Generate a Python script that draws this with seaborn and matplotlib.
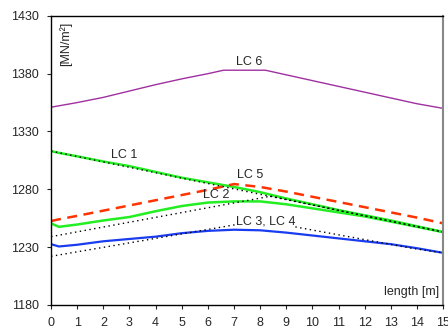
import matplotlib
matplotlib.use("Agg")
import matplotlib.pyplot as plt
import seaborn as sns
import pandas as pd

# values (stress in MN/m² along the length)
x = [0, 0.3, 1, 2, 3, 4, 5, 6, 7, 8, 9, 10, 11, 12, 13, 14, 15]
lc1 = [1313, 1311.5, 1308.5, 1304, 1300, 1295, 1290, 1286, 1282, 1277.5, 1272, 1267, 1262, 1257.5, 1253, 1248, 1243]
lc2 = [1250.5, 1247.5, 1249.5, 1253, 1256, 1261, 1265.5, 1268.5, 1269.5, 1269.5, 1267, 1263.5, 1260, 1256.5, 1252, 1247.5, 1243]
lc3 = [1232.5, 1230.5, 1232, 1235, 1237, 1239, 1242, 1244, 1245, 1244.5, 1242.5, 1240, 1237.5, 1235, 1232.5, 1229, 1225]
lc5 = [1252.5, 1254, 1257, 1261.5, 1266, 1270.5, 1275, 1279.5, 1284.5, 1282, 1278, 1273.5, 1269, 1264.5, 1260, 1255.5, 1250.5]

# LC 6 has a flat top between ~6.6 m and ~8.2 m
lc6_x = [0, 1, 2, 3, 4, 5, 6, 6.6, 8.2, 9, 10, 11, 12, 13, 14, 15]
lc6 = [1351, 1355, 1359.5, 1365, 1370.5, 1375.5, 1380, 1383, 1383, 1379, 1374, 1369, 1364, 1359, 1354, 1350]

# dotted approximation lines
dot1_x = [0, 15]
dot1_y = [1313, 1243]
dot2_x = [0, 8.4, 15]
dot2_y = [1239, 1274, 1243]
dot3_x = [0, 8, 13.8, 15]
dot3_y = [1222, 1253, 1229, 1225]

sns.set_style("ticks")
plt.rcParams['font.family'] = ['Liberation Sans', 'DejaVu Sans']

fig = plt.figure(figsize=(4.48, 3.31), dpi=100)
ax = fig.add_axes([0.114, 0.079, 0.875, 0.873])

df = pd.DataFrame({"x": x, "LC 1": lc1, "LC 2": lc2, "LC 3": lc3, "LC 5": lc5})

sns.lineplot(x=lc6_x, y=lc6, ax=ax, color="#a030a0", lw=1.0)
sns.lineplot(x="x", y="LC 1", data=df, ax=ax, color="#22ee22", lw=1.8)
sns.lineplot(x="x", y="LC 2", data=df, ax=ax, color="#22ee22", lw=1.8)
sns.lineplot(x="x", y="LC 3", data=df, ax=ax, color="#1a3cf0", lw=1.6)
sns.lineplot(x="x", y="LC 5", data=df, ax=ax, color="#ff3300", lw=1.8, linestyle=(0, (4, 2.6)))

for dx, dy in [(dot1_x, dot1_y), (dot2_x, dot2_y), (dot3_x, dot3_y)]:
    sns.lineplot(x=dx, y=dy, ax=ax, color="black", lw=1.0, linestyle=(0, (1, 2.5)))

ax.text(7.6, 1390, "LC 6", ha="center", va="center", fontsize=9)
ax.text(2.8, 1310, "LC 1", ha="center", va="center", fontsize=9)
ax.text(7.6, 1292, "LC 5", ha="center", va="center", fontsize=9)
ax.text(6.3, 1275, "LC 2", ha="center", va="center", fontsize=9)
ax.text(8.2, 1252, "LC 3, LC 4", ha="center", va="center", fontsize=9,
        bbox=dict(facecolor="white", edgecolor="none", pad=0))

ax.text(0.02, 0.98, "[MN/m²]", transform=ax.transAxes, rotation=90,
        ha="left", va="top", fontsize=9)
ax.text(0.99, 0.025, "length [m]", transform=ax.transAxes,
        ha="right", va="bottom", fontsize=9)

ax.set_xlim(0, 15)
ax.set_ylim(1180, 1430)
ax.set_xticks(range(0, 16))
ax.set_yticks([1180, 1230, 1280, 1330, 1380, 1430])
ax.set_xlabel("")
ax.set_ylabel("")
ax.tick_params(labelsize=9, length=3, width=0.8, pad=6)
for s in ax.spines.values():
    s.set_linewidth(1.0)
    s.set_color("black")
ax.spines["right"].set_color("#888888")
ax.spines["right"].set_linewidth(1.5)

fig.savefig("out.png", dpi=100)
